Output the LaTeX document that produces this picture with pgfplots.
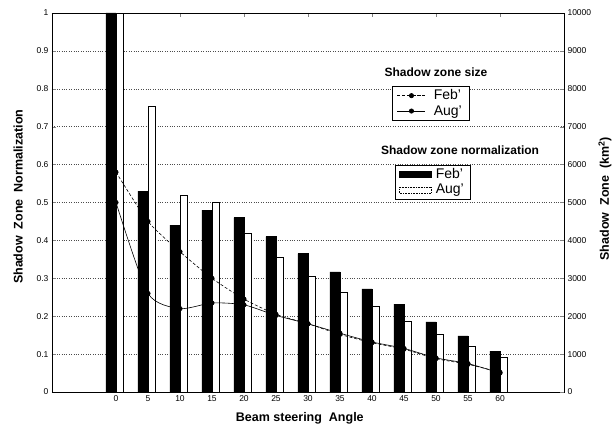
\documentclass[border=0pt]{standalone}
\usepackage{pgfplots}
\pgfplotsset{compat=1.18}
\usepackage{fontspec}
\setmainfont{Liberation Sans}
\begin{document}
\begin{tikzpicture}
\path[use as bounding box] (-52pt,-35pt) rectangle (562pt,392pt);
\begin{axis}[
  scale only axis, width=512pt, height=379pt,
  xmin=-2, xmax=14, ymin=0, ymax=1,
  xtick={0,1,2,3,4,5,6,7,8,9,10,11,12},
  xticklabels={0,5,10,15,20,25,30,35,40,45,50,55,60},
  ytick={0,0.1,0.2,0.3,0.4,0.5,0.6,0.7,0.8,0.9,1},
  yticklabels={0,0.1,0.2,0.3,0.4,0.5,0.6,0.7,0.8,0.9,1},
  xtick pos=bottom, ytick pos=left, tick align=inside,
  major tick length=4pt,
  ymajorgrids, grid style={dotted, black!70},
  tick label style={font=\fontsize{8.5}{9}\selectfont},
  /pgf/number format/assume math mode=true,
  xlabel={Beam steering\ \ Angle},
  ylabel={Shadow\ \ Zone\ \ Normalization},
  label style={font=\fontsize{12.5}{14}\selectfont\bfseries},
  xlabel style={at={(axis description cs:0.484,-0.069)}, anchor=center},
  ylabel style={at={(axis description cs:-0.066,0.515)}, anchor=center},
  legend style={at={(0.67,0.599)}, anchor=north west, draw=black, thin,
    font=\fontsize{14}{15}\selectfont, row sep=0pt, inner xsep=4pt, inner ysep=1.5pt},
  legend cell align=left,
]
\addplot[ybar, bar width=0.32, bar shift=-0.16, fill=black, draw=black,
  legend image code/.code={\draw[fill=black,draw=black] (0pt,-3pt) rectangle (32pt,3pt);}]
  coordinates {(0,1.0)(1,0.53)(2,0.44)(3,0.48)(4,0.46)(5,0.41)(6,0.365)(7,0.317)(8,0.272)(9,0.232)(10,0.185)(11,0.148)(12,0.108)};
\addlegendentry{\hspace{2pt}Feb'\hspace{10pt}}
\addplot[ybar, bar width=0.22, bar shift=0.12, fill=white, draw=black, semithick,
  legend image code/.code={\draw[fill=white,draw=black,densely dotted] (0pt,-3pt) rectangle (32pt,3pt);}]
  coordinates {(0,1.0)(1,0.755)(2,0.52)(3,0.50)(4,0.42)(5,0.355)(6,0.305)(7,0.263)(8,0.226)(9,0.187)(10,0.153)(11,0.121)(12,0.092)};
\addlegendentry{\hspace{2pt}Aug'\hspace{10pt}}
\node[font=\fontsize{12}{14}\selectfont\bfseries] at (rel axis cs:0.797,0.638) {Shadow zone normalization};
\end{axis}
\begin{axis}[
  scale only axis, width=512pt, height=379pt,
  xmin=-2, xmax=14, ymin=0, ymax=10000,
  axis y line*=right, axis x line*=top,
  xtick={2,4,6,8,10,12}, xticklabels={},
  ytick={0,1000,2000,3000,4000,5000,6000,7000,8000,9000,10000},
  scaled y ticks=false, tick align=inside, major tick length=4pt,
  yticklabel style={/pgf/number format/1000 sep={}},
  tick label style={font=\fontsize{8.5}{9}\selectfont},
  /pgf/number format/assume math mode=true,
  ylabel={Shadow\ \ Zone\ \ (km$^{\mathbf{2}}$)},
  label style={font=\fontsize{12.5}{14}\selectfont\bfseries},
  ylabel style={at={(axis description cs:1.08,0.51)}, anchor=center},
  legend style={at={(0.664,0.807)}, anchor=north west, draw=black, thin,
    font=\fontsize{14}{15}\selectfont, row sep=0pt, inner xsep=5pt, inner ysep=1.5pt},
  legend cell align=left,
  legend image code/.code={\draw[mark repeat=2,mark phase=2,#1] plot coordinates {(0pt,0pt)(14pt,0pt)(28pt,0pt)};},
]
\addplot[black, semithick, smooth, tension=0.4, dash pattern=on 3pt off 2pt, mark=*, mark size=2.2pt, mark options={solid}]
  coordinates {(0,5800)(1,4500)(2,3700)(3,3000)(4,2450)(5,2050)(6,1800)(7,1520)(8,1300)(9,1130)(10,880)(11,730)(12,520)};
\addlegendentry{\hspace{6pt}Feb'\hspace{10pt}}
\addplot[black, semithick, smooth, tension=0.4, mark=*, mark size=2.2pt]
  coordinates {(0,5000)(1,2600)(2,2200)(3,2350)(4,2300)(5,2020)(6,1800)(7,1550)(8,1320)(9,1150)(10,900)(11,750)(12,500)};
\addlegendentry{\hspace{6pt}Aug'\hspace{10pt}}
\node[font=\fontsize{12}{14}\selectfont\bfseries] at (rel axis cs:0.75,0.844) {Shadow zone size};
\end{axis}
\end{tikzpicture}
\end{document}
